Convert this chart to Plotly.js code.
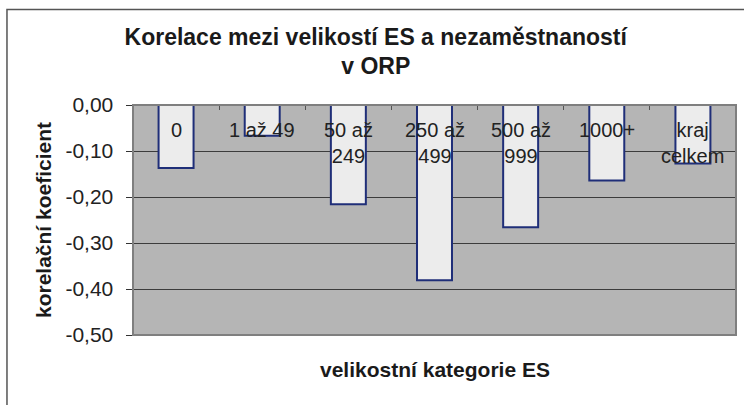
<!DOCTYPE html>
<html>
<head>
<meta charset="utf-8">
<script src="https://cdn.plot.ly/plotly-3.0.1.min.js"></script>
<style>
  html, body { margin: 0; padding: 0; background: #ffffff; }
  #chart { width: 744px; height: 405px; }
</style>
</head>
<body>
<div id="chart"></div>
<script>
// Data
var categories = ['0', '1 až 49', '50 až 249', '250 až 499', '500 až 999', '1000+', 'kraj celkem'];
var categoryLabels = ['0', '1 až 49', '50 až<br>249', '250 až<br>499', '500 až<br>999', '1000+', 'kraj<br>celkem'];
var correlation = [-0.137, -0.067, -0.216, -0.381, -0.266, -0.164, -0.127];
var yTickValues = [0, -0.1, -0.2, -0.3, -0.4, -0.5];
var yTickLabels = ['0,00', '-0,10', '-0,20', '-0,30', '-0,40', '-0,50'];

var FONT = 'Liberation Sans, Arial, sans-serif';

var trace = {
  type: 'bar',
  x: categories,
  y: correlation,
  marker: { color: '#ececec', line: { color: '#1f2e78', width: 2 } },
  hoverinfo: 'x+y'
};

// Category labels sit just below the zero line, inside the plot (as in Excel)
var labelAnnotations = categories.map(function (c, i) {
  return {
    text: categoryLabels[i], xref: 'x', yref: 'y', x: c, y: 0,
    xanchor: 'center', yanchor: 'top', yshift: -12, showarrow: false,
    font: { family: FONT, size: 20, color: '#222222' }
  };
});

var layout = {
  width: 744,
  height: 405,
  margin: { l: 133, r: 8, t: 105, b: 70, pad: 0 },
  paper_bgcolor: '#ffffff',
  plot_bgcolor: '#b5b5b5',
  font: { family: FONT, color: '#222222' },
  showlegend: false,
  bargap: 0.594,
  title: {
    text: '<b>Korelace mezi velikostí ES a nezaměstnaností<br>v ORP</b>',
    font: { family: FONT, size: 23, color: '#1a1a1a' },
    x: 0.505, xref: 'container', xanchor: 'center',
    y: 0.89, yref: 'container', yanchor: 'top'
  },
  xaxis: {
    type: 'category',
    side: 'top',
    ticks: 'inside',
    tickson: 'boundaries',
    ticklen: 5,
    tickcolor: '#555555',
    showticklabels: false,
    showgrid: false,
    zeroline: false,
    showline: false,
    fixedrange: true
  },
  yaxis: {
    range: [-0.5, 0],
    tickvals: yTickValues,
    ticktext: yTickLabels,
    ticks: 'outside',
    ticklen: 6,
    tickcolor: '#333333',
    ticklabelstandoff: 8,
    tickfont: { family: FONT, size: 21, color: '#222222' },
    showline: true,
    linecolor: '#111111',
    linewidth: 1.5,
    showgrid: true,
    gridcolor: '#3c3c3c',
    gridwidth: 1,
    zeroline: false,
    title: {
      text: '<b>korelační koeficient</b>',
      font: { family: FONT, size: 21, color: '#1a1a1a' },
      standoff: 8
    },
    fixedrange: true
  },
  shapes: [
    { type: 'rect', xref: 'paper', yref: 'paper', x0: 0, x1: 1, y0: 0, y1: 1,
      line: { color: '#7f7f7f', width: 2 }, layer: 'above' },
    { type: 'rect', xref: 'paper', yref: 'paper', x0: -0.209, x1: 1.06, y0: -0.45, y1: 1.415,
      line: { color: '#555555', width: 1.5 }, layer: 'below' }
  ],
  annotations: labelAnnotations.concat([
    { text: '<b>velikostní kategorie ES</b>', xref: 'paper', yref: 'paper',
      x: 0.5, y: -0.148, xanchor: 'center', yanchor: 'middle', showarrow: false,
      font: { family: FONT, size: 21, color: '#1a1a1a' } }
  ])
};

Plotly.newPlot('chart', [trace], layout, { displayModeBar: false, staticPlot: true });
</script>
</body>
</html>
